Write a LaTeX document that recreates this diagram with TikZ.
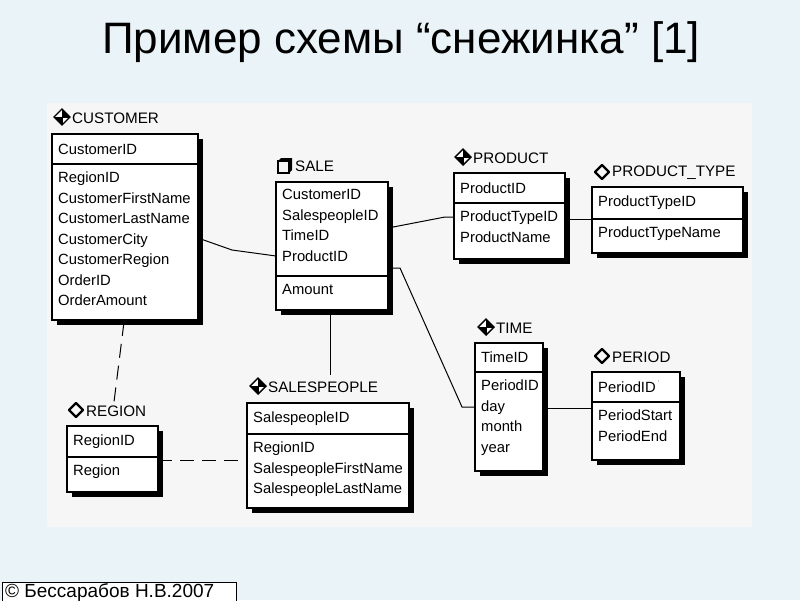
\documentclass[tikz,border=0pt]{standalone}
\usepackage{fontspec}
\setmainfont{Liberation Sans}
\definecolor{bgc}{HTML}{EAF4F8}
\definecolor{panel}{HTML}{F6F6F6}
\tikzset{
  ent/.style={draw=black,fill=white,line width=1.1pt},
  shad/.style={fill=black},
  fld/.style={anchor=west,inner sep=0pt,font=\fontsize{14.8}{20.5}\selectfont},
  flds/.style={anchor=north west,inner sep=0pt,align=left,font=\fontsize{14.8}{20.5}\selectfont},
  ttl/.style={anchor=west,inner sep=0pt,font=\fontsize{15.2}{16}\selectfont},
  conn/.style={line width=1pt},
  dconn/.style={line width=1pt,dash pattern=on 14pt off 8pt}
}
% name, x1,y1,x2,y2,ysep,key,rest
\newcommand{\erent}[8]{%
  \fill[shad] (#2+5,#3+5) rectangle (#4+5,#5+5);
  \draw[ent] (#2,#3) rectangle (#4,#5);
  \draw[line width=1.1pt] (#2,#6) -- (#4,#6);
  \node[fld] (#1-key) at (#2+6,{(#3+#6)/2}) {#7};
  \node[flds] (#1-rest) at (#2+6,#6+8) {#8};
  \coordinate (#1-nw) at (#2,#3);
}
\newcommand{\iconfull}[2]{%
  \draw[line width=1.4pt,fill=white] (#1,#2-8) -- (#1+8,#2) -- (#1,#2+8) -- (#1-8,#2) -- cycle;
  \fill (#1,#2-8) -- (#1+8,#2) -- (#1,#2) -- cycle;
  \fill (#1,#2+8) -- (#1-8,#2) -- (#1,#2) -- cycle;
  \draw[line width=1pt] (#1-8,#2) -- (#1+8,#2) (#1,#2-8) -- (#1,#2+8);
}
\newcommand{\iconhollow}[2]{%
  \draw[line width=2.4pt,line join=round] (#1,#2-7) -- (#1+7,#2) -- (#1,#2+7) -- (#1-7,#2) -- cycle;
}
\newcommand{\iconbox}[2]{%
  \draw[line width=1.8pt] (#1-6,#2-5) rectangle (#1+5,#2+7);
  \fill (#1-6,#2-5) -- (#1-3,#2-8) -- (#1+8,#2-8) -- (#1+8,#2+4) -- (#1+5,#2+7) -- (#1+5,#2-5) -- cycle;
}
\begin{document}
\begin{tikzpicture}[x=1pt,y=-1pt]
\useasboundingbox (0,0) rectangle (800,600);
\fill[bgc] (0,0) rectangle (800,600);
\fill[panel] (47,103) rectangle (752,527);
\node[font=\fontsize{44}{50}\selectfont] (title) at (401,42) {Пример схемы “снежинка” [1]};
\draw[line width=0.8pt,fill=white] (2,582) rectangle (236,601);
\node[anchor=west,inner sep=0pt,font=\fontsize{19}{21}\selectfont] (copy) at (5,592) {© Бессарабов Н.В.2007};

\coordinate (c1) at (198,238); \coordinate (c2) at (276,256);
\draw[conn] (c1) -- (232,250) -- (c2);
\coordinate (s1) at (388,228); \coordinate (p1) at (454,217);
\draw[conn] (s1) -- (445,217) -- (p1);
\coordinate (s2) at (388,268); \coordinate (t1) at (475,407);
\draw[conn] (s2) -- (400,268) -- (462,407) -- (t1);
\coordinate (p2) at (565,219); \coordinate (pt1) at (592,219);
\draw[conn] (p2) -- (pt1);
\coordinate (t2) at (543,408); \coordinate (pe1) at (592,408);
\draw[conn] (t2) -- (pe1);
\coordinate (s3) at (330,310); \coordinate (sp1) at (330,375);
\draw[conn] (s3) -- (sp1);
\coordinate (cu3) at (124,322); \coordinate (r1) at (114,402);
\draw[dconn] (cu3) -- (r1);
\coordinate (r2) at (158,460); \coordinate (sp2) at (247,460);
\draw[dconn] (r2) -- (sp2);

\erent{customer}{52}{134}{198}{320}{164}{CustomerID}{RegionID\\CustomerFirstName\\CustomerLastName\\CustomerCity\\CustomerRegion\\OrderID\\OrderAmount}
\iconfull{62}{117}\node[ttl] (customer-t) at (72,118) {CUSTOMER};

\erent{sale}{276}{182}{388}{310}{276}{}{Amount}
\node[flds] (sale-keys) at (282,189) {CustomerID\\SalespeopleID\\TimeID\\ProductID};
\iconbox{284}{166}\node[ttl] (sale-t) at (295,166) {SALE};

\erent{product}{454}{173}{565}{259}{203}{ProductID}{ProductTypeID\\ProductName}
\iconfull{463}{157}\node[ttl] (product-t) at (473,158) {PRODUCT};

\erent{ptype}{592}{187}{743}{253}{219}{ProductTypeID}{ProductTypeName}
\iconhollow{602}{172}\node[ttl] (ptype-t) at (612,173) {PRODUCT\_TYPE};

\erent{time}{475}{343}{543}{471}{372}{TimeID}{PeriodID\\day\\month\\year}
\iconfull{486}{327}\node[ttl] (time-t) at (496,328) {TIME};

\erent{period}{592}{372}{680}{460}{402}{PeriodID\,\raisebox{1ex}{\tiny'}}{PeriodStart\\PeriodEnd}
\iconhollow{602}{356}\node[ttl] (period-t) at (612,357) {PERIOD};

\erent{region}{67}{426}{158}{492}{457}{RegionID}{Region}
\iconhollow{76}{410}\node[ttl] (region-t) at (86,411) {REGION};

\erent{sales}{247}{403}{409}{508}{434}{SalespeopleID}{RegionID\\SalespeopleFirstName\\SalespeopleLastName}
\iconfull{258}{386}\node[ttl] (sales-t) at (268,387) {SALESPEOPLE};
\end{tikzpicture}
\end{document}
